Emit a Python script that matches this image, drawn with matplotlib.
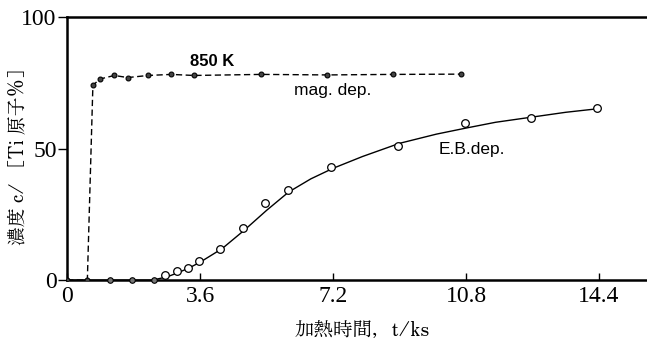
import matplotlib
matplotlib.use('Agg')
import matplotlib.pyplot as plt

# mag. dep. (850 K), filled dots, dashed line
mag_t = [0.0, 0.55, 0.70, 0.88, 1.28, 1.64, 2.20, 2.82, 3.43, 5.26, 7.05, 8.82, 10.66]
mag_c = [0.0, 0.0, 74.0, 76.4, 77.8, 77.0, 77.8, 78.2, 77.8, 78.2, 78.0, 78.2, 78.3]

# E.B. dep. measured points
eb_zero_t = [1.17, 1.77, 2.35]
eb_zero_c = [0.0, 0.0, 0.0]
eb_t = [2.66, 2.99, 3.27, 3.57, 4.15, 4.76, 5.35, 5.97, 7.15, 8.96, 10.76, 12.57, 14.35]
eb_c = [1.9, 3.4, 4.6, 7.2, 11.9, 19.9, 29.4, 34.2, 43.0, 51.0, 59.6, 61.5, 65.6]

# hand drawn curve through E.B. data
curve_t = [0, 2.3, 2.7, 3.0, 3.3, 3.6, 4.2, 4.8, 5.4, 6.0, 6.6, 7.2, 8.0, 9.0, 10.0, 10.8, 11.6, 12.6, 13.5, 14.4]
curve_c = [0, 0, 1.2, 2.8, 4.6, 6.8, 12.0, 19.0, 26.5, 33.5, 38.5, 42.5, 47.0, 52.0, 55.5, 57.8, 60.0, 62.0, 63.8, 65.2]

xticks = [0, 3.6, 7.2, 10.8, 14.4]
xticklabels = ['0', '3.6', '7.2', '10.8', '14.4']
yticks = [0, 50, 100]

jp_serif = ['Zen Old Mincho', 'Noto Sans CJK JP', 'DejaVu Sans']

fig = plt.figure(figsize=(6.47, 3.48), dpi=100)
ax = fig.add_axes([0.1036, 0.195, 0.8964, 0.756])

ax.plot(curve_t, curve_c, '-', color='black', lw=1.0, zorder=2)
ax.plot(mag_t, mag_c, '--', color='black', lw=1.0, dashes=(4.5, 2.5), zorder=2)
ax.plot(mag_t, mag_c, 'o', ms=3.5, mfc='#444444', mec='black', mew=0.8, zorder=3)
ax.plot(eb_zero_t, eb_zero_c, 'o', ms=4, mfc='#777777', mec='black', mew=0.8,
        zorder=3, clip_on=False)
ax.plot(eb_t, eb_c, 'o', ms=5.5, mfc='white', mec='black', mew=0.9, zorder=3)

ax.set_xlim(0, 15.7)
ax.set_ylim(0, 100)

ax.spines['right'].set_visible(False)
for s in ['left', 'top', 'bottom']:
    ax.spines[s].set_linewidth(1.8)

ax.set_xticks(xticks, xticklabels)
ax.set_yticks(yticks, [str(v) for v in yticks])
for lbl in ax.get_xticklabels():
    lbl.set_fontfamily('Liberation Serif')
    lbl.set_fontsize(17)
for lbl in ax.get_yticklabels():
    lbl.set_fontfamily('Liberation Serif')
    lbl.set_fontsize(17)
ax.tick_params(axis='x', direction='in', length=5, width=1, pad=4)
ax.tick_params(axis='y', direction='out', length=6.5, width=1, pad=1)

ax.text(3.93, 83, '850 K', family='Liberation Sans', fontweight='bold',
        fontsize=12, ha='center', va='center')
ax.text(7.2, 72, 'mag. dep.', family='Liberation Sans', fontsize=12.5,
        ha='center', va='center')
ax.text(10.05, 49.8, 'E.B.dep.', family='Liberation Sans', fontsize=12.5,
        ha='left', va='center')

fig.text(0.56, 0.048, '加熱時間，t/ks', family=jp_serif,
         fontsize=14, ha='center', va='center')
fig.text(0.028, 0.563, '濃度 c/ ［Ti 原子%］', family=jp_serif,
         fontsize=13.5, ha='center', va='center', rotation=90)

fig.savefig('out.png', dpi=100)
